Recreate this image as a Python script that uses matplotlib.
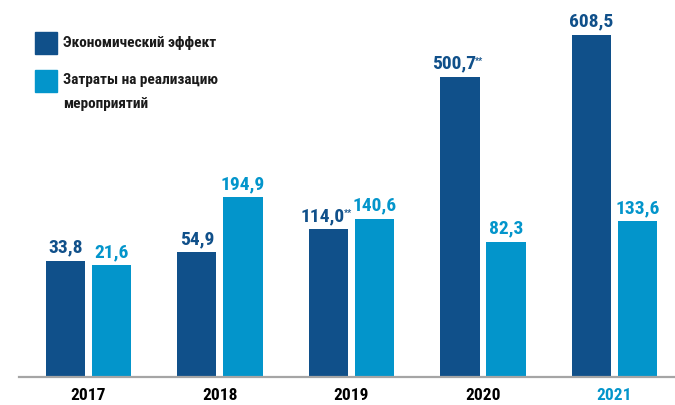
import matplotlib
matplotlib.use('Agg')
import matplotlib.pyplot as plt
from matplotlib.patches import Rectangle

# Data
years = ['2017', '2018', '2019', '2020', '2021']
effect = [33.8, 54.9, 114.0, 500.7, 608.5]
costs = [21.6, 194.9, 140.6, 82.3, 133.6]
effect_notes = ['', '', '**', '**', '']

effect_label = 'Экономический эффект'
costs_label = ['Затраты на реализацию', 'мероприятий']

dark = '#10508a'
light = '#0395cb'
fonts = ['Liberation Sans Narrow', 'Roboto Condensed', 'Liberation Sans', 'DejaVu Sans']

# the original bars are not drawn from zero, they all start from a common offset
base = -262

fig = plt.figure(figsize=(6.75, 4.05), dpi=100)
ax = fig.add_axes([19 / 675, 28 / 405, 656 / 675, 377 / 405])

x = list(range(len(years)))
w = 0.297
d = 0.175
ax.bar([i - d for i in x], [v - base for v in effect], w, bottom=base, color=dark)
ax.bar([i + d for i in x], [v - base for v in costs], w, bottom=base, color=light)

ax.set_ylim(base, base + 958.6)
ax.set_xlim(-0.528, 4.46)

for s in ['top', 'right', 'left']:
    ax.spines[s].set_visible(False)
ax.spines['bottom'].set_color('#a5a5a5')
ax.spines['bottom'].set_linewidth(1.6)
ax.spines['bottom'].set_position(('data', base))
ax.set_yticks([])

ax.set_xticks(x)
ax.set_xticklabels(years, family=fonts, weight='bold', size=12.5)
ax.tick_params(axis='x', length=0, pad=8)
ax.get_xticklabels()[-1].set_color(light)

fig.canvas.draw()
r = fig.canvas.get_renderer()

for i, v in enumerate(effect):
    shift = -4.5 if effect_notes[i] else 0
    t = ax.annotate(f'{v:.1f}'.replace('.', ','), (i - d, v), xytext=(shift, 3),
                    textcoords='offset points', ha='center', va='bottom',
                    family=fonts, weight='bold', size=14, color=dark)
    if effect_notes[i]:
        bb = t.get_window_extent(r)
        fig.text(bb.x1 / 675 - 0.001, bb.y1 / 405 - 0.004, effect_notes[i], ha='left', va='top',
                 family=fonts, weight='bold', size=6.5, color=dark)

for i, v in enumerate(costs):
    ax.annotate(f'{v:.1f}'.replace('.', ','), (i + d, v), xytext=(0, 3),
                textcoords='offset points', ha='center', va='bottom',
                family=fonts, weight='bold', size=14, color=light)

# Legend
fig.patches.append(Rectangle((35 / 675, 1 - 54 / 405), 22 / 675, 22 / 405,
                             transform=fig.transFigure, color=dark))
fig.patches.append(Rectangle((35 / 675, 1 - 92 / 405), 22 / 675, 22 / 405,
                             transform=fig.transFigure, color=light))
fig.text(63 / 675, 1 - 43 / 405, effect_label, va='center', ha='left',
         family=fonts, weight='bold', size=11, color='#1a1a1a')
for k, line in enumerate(costs_label):
    fig.text(63 / 675, 1 - (80 + 24 * k) / 405, line, va='center', ha='left',
             family=fonts, weight='bold', size=11, color='#1a1a1a')

fig.savefig('out.png', dpi=100)
